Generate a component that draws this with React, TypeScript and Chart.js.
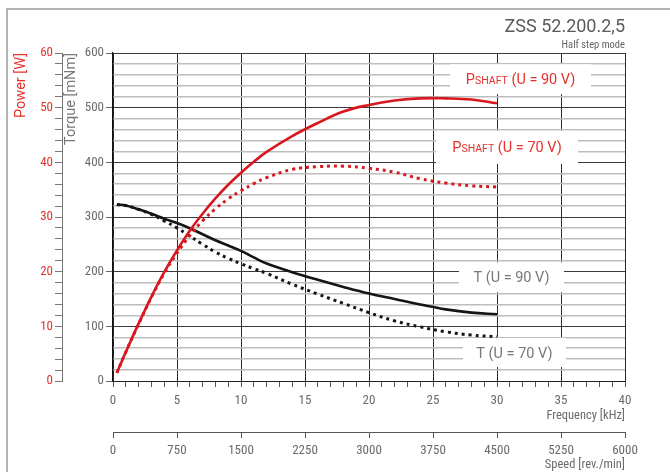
import { useEffect, useRef } from 'react';
import { Chart, registerables } from 'chart.js';

Chart.register(...registerables);

// ---------- data ----------
const FREQ_KHZ = [0.3, 1, 2, 3, 4, 5, 6, 7, 8, 9, 10, 11, 12, 14, 16, 18, 20, 22, 24, 26, 28, 30];
const POWER_90V_W = [1.5, 5.3, 10.5, 15.4, 19.9, 23.9, 27.5, 30.6, 33.4, 35.9, 38.1, 40.1, 41.9, 44.8, 47.2, 49.3, 50.5, 51.3, 51.7, 51.7, 51.5, 50.8];
const POWER_70V_W = [1.5, 5.3, 10.4, 15.3, 19.7, 23.4, 26.6, 29.3, 31.5, 33.3, 34.8, 36.1, 37.2, 38.7, 39.2, 39.3, 38.9, 38.2, 37.0, 36.2, 35.7, 35.5];
const TORQUE_90V_MNM = [323, 321, 314, 306, 297, 289, 279.5, 268.5, 257.5, 248, 238, 226, 215, 199, 185, 172, 160, 150, 140, 131, 125, 122];
const TORQUE_70V_MNM = [323, 321, 314, 305, 293, 280, 265, 250, 236, 224.5, 214.5, 205.5, 197, 177, 159, 142, 125, 110, 99, 90, 84, 81];

const SERIES_NAMES = ['PSHAFT (U = 90 V)', 'PSHAFT (U = 70 V)', 'T (U = 90 V)', 'T (U = 70 V)'];

const FREQ_RANGE = [0, 40];
const SPEED_RANGE = [0, 6000];
const TORQUE_RANGE = [0, 600];
const POWER_RANGE = [0, 60];

const TITLE = 'ZSS 52.200.2,5';
const SUBTITLE = 'Half step mode';

// curve labels: text pieces [text, smallCaps], anchor in data units (frequency, torque)
const CURVE_LABELS = [
  { parts: [['P', false], ['SHAFT', true], [' (U = 90 V)', false]] as [string, boolean][], freq: 31.84, torque: 552, w: 141, h: 30, red: true },
  { parts: [['P', false], ['SHAFT', true], [' (U = 70 V)', false]] as [string, boolean][], freq: 30.78, torque: 427.6, w: 142, h: 33, red: true },
  { parts: [['T (U = 90 V)', false]] as [string, boolean][], freq: 31.13, torque: 189.7, w: 105, h: 30, red: false },
  { parts: [['T (U = 70 V)', false]] as [string, boolean][], freq: 31.36, torque: 52, w: 103, h: 29, red: false },
];

// ---------- styles ----------
const RED = '#d8181f';
const RED_TEXT = '#e2332c';
const BLACK = '#151515';
const GRAY_TEXT = '#6a6a6a';

function pickFont(list: string[]): string {
  const c = document.createElement('canvas').getContext('2d');
  if (!c) return list[list.length - 1];
  const sample = 'abcdefghijklmnopqrstuvwxyz0123456789ABCDEFG';
  for (const f of list) {
    for (const base of ['monospace', 'serif']) {
      c.font = `20px ${base}`;
      const w0 = c.measureText(sample).width;
      c.font = `20px "${f}", ${base}`;
      const w1 = c.measureText(sample).width;
      if (w0 !== w1) return f;
    }
  }
  return 'sans-serif';
}

export default function App() {
  const ref = useRef<HTMLCanvasElement>(null);

  useEffect(() => {
    const narrow = pickFont(['Roboto Condensed', 'Liberation Sans Narrow', 'Roboto', 'DejaVu Sans']);
    const wide = pickFont(['Roboto', 'Noto Sans', 'DejaVu Sans']);
    const famN = `"${narrow}", sans-serif`;
    const famW = `"${wide}", sans-serif`;
    Chart.defaults.font.family = famN;

    const pts = (ys: number[]) => FREQ_KHZ.map((f, i) => ({ x: f, y: ys[i] }));

    const frame = {
      id: 'frame',
      beforeDraw(chart: any) {
        const { ctx, width, height } = chart;
        ctx.save();
        ctx.fillStyle = '#fff';
        ctx.fillRect(0, 0, width, height);
        ctx.strokeStyle = '#9a9a9a';
        ctx.lineWidth = 1.5;
        ctx.beginPath();
        ctx.moveTo(7, height);
        ctx.lineTo(7, 9);
        ctx.lineTo(width, 9);
        ctx.stroke();
        ctx.restore();
      },
    };

    const labels = {
      id: 'curveLabels',
      beforeDatasetsDraw(chart: any) {
        const { ctx, scales } = chart;
        const xs = scales.x;
        const ys = scales.y;
        ctx.save();
        for (const lab of CURVE_LABELS) {
          const cx = xs.getPixelForValue(lab.freq);
          const cy = ys.getPixelForValue(lab.torque);
          ctx.fillStyle = '#fff';
          ctx.fillRect(cx - lab.w / 2, cy - lab.h / 2, lab.w, lab.h);
          const pieces = lab.parts.map(([s, small]) => ({ s, font: `${small ? 10.5 : 14.5}px ${famW}` }));
          let total = 0;
          for (const p of pieces) {
            ctx.font = p.font;
            total += ctx.measureText(p.s).width;
          }
          let x = cx - total / 2;
          const base = cy + 5.2;
          ctx.fillStyle = lab.red ? RED_TEXT : '#777';
          ctx.textBaseline = 'alphabetic';
          ctx.textAlign = 'left';
          for (const p of pieces) {
            ctx.font = p.font;
            ctx.fillText(p.s, x, base);
            x += ctx.measureText(p.s).width;
          }
        }
        ctx.restore();
      },
    };

    const line = (label: string, ys: number[], axis: string, color: string, dotted: boolean) => ({
      label,
      data: pts(ys),
      xAxisID: 'x',
      yAxisID: axis,
      borderColor: color,
      borderWidth: dotted ? 3 : 2.6,
      borderDash: dotted ? [3, 4] : [],
      pointRadius: 0,
      tension: 0.4,
      fill: false,
    });

    const chart = new Chart(ref.current!, {
      type: 'line',
      data: {
        datasets: [
          line(SERIES_NAMES[0], POWER_90V_W, 'y2', RED, false),
          line(SERIES_NAMES[1], POWER_70V_W, 'y2', RED, true),
          line(SERIES_NAMES[2], TORQUE_90V_MNM, 'y', BLACK, false),
          line(SERIES_NAMES[3], TORQUE_70V_MNM, 'y', BLACK, true),
        ] as any,
      },
      options: {
        animation: false,
        responsive: false,
        devicePixelRatio: 1,
        layout: { padding: { top: 0, left: 10, right: 45, bottom: 0 } },
        plugins: {
          legend: { display: false },
          tooltip: { enabled: false },
          title: { display: true, text: TITLE, align: 'end', color: '#5a5a5a', font: { family: famW, size: 18, weight: 'normal' }, padding: { top: 16.4, bottom: 0 } },
          subtitle: { display: true, text: SUBTITLE, align: 'end', color: '#666', font: { size: 10.5, weight: 'normal' }, padding: { top: 1.2, bottom: 1.2 } },
        },
        scales: {
          x: {
            type: 'linear', axis: 'x', position: 'bottom', weight: 0,
            min: FREQ_RANGE[0], max: FREQ_RANGE[1],
            ticks: { stepSize: 1, autoSkip: false, maxRotation: 0, color: GRAY_TEXT, font: { size: 13 }, padding: 6, callback: (v: any) => (Number(v) % 5 === 0 ? String(v) : '') },
            grid: {
              color: (c: any) => (c.tick && c.tick.value % 5 === 0 ? '#2a2a2a' : 'rgba(0,0,0,0)'),
              lineWidth: 1, tickLength: 6, tickColor: '#555', drawOnChartArea: true,
            },
            border: { display: true, color: '#222', width: 1 },
            title: { display: true, text: 'Frequency [kHz]', align: 'end', color: GRAY_TEXT, font: { size: 12.5 }, padding: { top: 0, bottom: 8.3 } },
            afterFit: (s: any) => { s.height = 51; },
          },
          x2: {
            type: 'linear', axis: 'x', position: 'bottom', weight: 1,
            min: SPEED_RANGE[0], max: SPEED_RANGE[1],
            ticks: { stepSize: 750, autoSkip: false, maxRotation: 0, color: GRAY_TEXT, font: { size: 13 }, padding: 5, callback: (v: any) => String(v) },
            grid: { drawOnChartArea: false, tickLength: 6, tickColor: '#555', lineWidth: 1 },
            border: { display: true, color: '#555', width: 1 },
            title: { display: true, text: 'Speed [rev./min]', align: 'end', color: GRAY_TEXT, font: { size: 12.5 }, padding: { top: 0, bottom: 0 } },
            afterFit: (s: any) => { s.height = 40; },
          },
          y: {
            type: 'linear', axis: 'y', position: 'left', weight: 0,
            min: TORQUE_RANGE[0], max: TORQUE_RANGE[1],
            ticks: { stepSize: 20, autoSkip: false, color: GRAY_TEXT, font: { size: 13 }, padding: 2, callback: (v: any) => (Number(v) % 100 === 0 ? String(v) : '') },
            grid: {
              color: (c: any) => (c.tick && c.tick.value % 100 === 0 ? '#3a3a3a' : '#bdbdbd'),
              lineWidth: (c: any) => (c.tick && c.tick.value % 100 === 0 ? 1 : 1.5),
              tickLength: 7,
              tickColor: (c: any) => (c.tick && c.tick.value % 100 === 0 ? '#666' : 'rgba(0,0,0,0)'),
              drawOnChartArea: true,
            },
            border: { display: true, color: '#111', width: 1.2 },
            title: { display: true, text: 'Torque [mNm]', align: 'end', color: '#777', font: { family: famW, size: 14.5 }, padding: { top: 0.3, bottom: 0 } },
            afterFit: (s: any) => { s.width = 51; },
          },
          y2: {
            type: 'linear', axis: 'y', position: 'left', weight: 1,
            min: POWER_RANGE[0], max: POWER_RANGE[1],
            ticks: { stepSize: 2, autoSkip: false, color: RED_TEXT, font: { size: 13 }, padding: 2, callback: (v: any) => (Number(v) % 10 === 0 ? String(v) : '') },
            grid: { drawOnChartArea: false, tickLength: 7, tickColor: '#777', lineWidth: 1 },
            border: { display: true, color: '#777', width: 1 },
            title: { display: true, text: 'Power [W]', align: 'end', color: RED_TEXT, font: { family: famW, size: 14.5 }, padding: { top: 3, bottom: 0 } },
            afterFit: (s: any) => { s.width = 52; },
          },
        },
      } as any,
      plugins: [frame, labels],
    });
    return () => chart.destroy();
  }, []);

  return (
    <div style={{ position: 'fixed', left: 0, top: 0, width: 670, height: 472, background: '#fff' }}>
      <canvas ref={ref} width={670} height={472} style={{ display: 'block', width: 670, height: 472 }} />
    </div>
  );
}
